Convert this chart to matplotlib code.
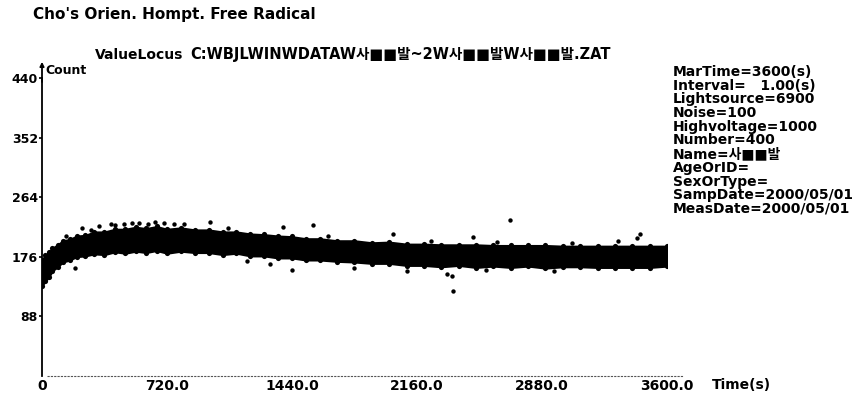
import matplotlib
matplotlib.use("Agg")
import matplotlib.pyplot as plt
import numpy as np

plt.rcParams['font.family'] = ['DejaVu Sans', 'Noto Sans CJK KR']

# time axis of the envelope (s) and lower / upper edge of the dense point cloud (count)
t_env = [0, 20, 40, 60, 90, 120, 160, 200, 250, 300, 360, 420, 480, 540, 600, 660,
         720, 800, 880, 960, 1040, 1120, 1200, 1280, 1360, 1440, 1520, 1600, 1700,
         1800, 1900, 2000, 2100, 2200, 2300, 2400, 2500, 2600, 2700, 2800, 2900,
         3000, 3100, 3200, 3300, 3400, 3500, 3600]
low_env = [133, 140, 146, 155, 161, 168, 171, 176, 177, 180, 179, 183, 181, 184, 182, 185,
           181, 184, 182, 182, 179, 181, 177, 177, 174, 174, 171, 171, 169,
           168, 166, 166, 163, 163, 161, 163, 160, 162, 160, 162, 159,
           161, 161, 160, 160, 160, 160, 162]
high_env = [172, 179, 183, 189, 194, 200, 202, 207, 208, 213, 213, 217, 217, 220, 218, 221,
            217, 219, 216, 216, 213, 213, 210, 209, 207, 206, 203, 203, 200,
            200, 197, 198, 195, 195, 194, 194, 194, 193, 193, 193, 193,
            192, 192, 192, 192, 192, 192, 192]

# single points away from the cloud
out_t = [190, 230, 330, 400, 520, 968, 1071, 1313, 1388, 1440, 1561, 1650, 1800,
         2020, 2100, 2330, 2360, 2367, 2480, 2560, 2695, 2950, 3318, 3425, 3445,
         420, 470, 560, 610, 650, 700, 760, 820, 140, 280, 1180, 2240, 2620, 3050]
out_c = [160, 218, 222, 224, 226, 227, 218, 165, 220, 156, 223, 207, 160,
         210, 155, 150, 148, 126, 205, 156, 231, 155, 200, 204, 210,
         223, 225, 226, 225, 227, 226, 225, 224, 207, 216, 170, 199, 198, 197]

y_ticks = [88, 176, 264, 352, 440]
x_ticks = [0, 720, 1440, 2160, 2880, 3600]
x_labels = ['0', '720.0', '1440.0', '2160.0', '2880.0', '3600.0']

info_lines = ['MarTime=3600(s)', 'Interval=   1.00(s)', 'Lightsource=6900', 'Noise=100',
              'Highvoltage=1000', 'Number=400', 'Name=사■■발', 'AgeOrID=',
              'SexOrType=', 'SampDate=2000/05/01', 'MeasDate=2000/05/01']

W, H = 853, 394
fig = plt.figure(figsize=(W / 100, H / 100), dpi=100)
fig.patch.set_facecolor('white')

def fx(px):
    return px / W

def fy(py):
    return 1 - py / H

# axes box in pixels: x 42..667, y 376 (0) .. 78 (440)
ax = fig.add_axes([fx(42), fy(376), fx(667) - fx(42), fy(78) - fy(376)])
ax.fill_between(t_env, low_env, high_env, color='black', lw=1.2, edgecolor='black')
ax.scatter(t_env, low_env, s=14, color='black', lw=0)
ax.scatter(t_env, high_env, s=14, color='black', lw=0)
ax.scatter(out_t, out_c, s=10, color='black', lw=0)

ax.set_xlim(0, 3600)
ax.set_ylim(0, 440)
for s in ['top', 'right', 'bottom']:
    ax.spines[s].set_visible(False)
ax.spines['left'].set_linewidth(1.3)
# dotted time axis, runs a little past 3600 as in the print
ax.plot([30, 3690], [0, 0], ls=(0, (2, 1)), lw=0.8, color='#555555', clip_on=False)

ax.set_yticks(y_ticks)
ax.set_yticklabels([str(v) for v in y_ticks], fontweight='bold', fontsize=9)
ax.tick_params(axis='y', length=2, width=1.2, pad=1)
ax.set_xticks(x_ticks)
ax.set_xticklabels(x_labels, fontweight='bold', fontsize=10)
ax.tick_params(axis='x', length=0, pad=2)
ax.annotate('', xy=(0, 468), xytext=(0, 430), xycoords='data',
            arrowprops=dict(arrowstyle='-|>', lw=1.3, color='black', mutation_scale=6),
            annotation_clip=False)

fig.text(fx(712), fy(385), 'Time(s)', fontsize=10, fontweight='bold', va='center')
fig.text(fx(33), fy(15), "Cho's Orien. Hompt. Free Radical", fontsize=11, fontweight='bold', va='center')
fig.text(fx(95), fy(55), 'ValueLocus', fontsize=10, fontweight='bold', va='center')
fig.text(fx(190), fy(55), 'C:WBJLWINWDATAW사■■발~2W사■■발W사■■발.ZAT', fontsize=10.5,
         fontweight='bold', va='center')
fig.text(fx(45), fy(71), 'Count', fontsize=9, fontweight='bold', va='center')

for i, line in enumerate(info_lines):
    fig.text(fx(673), fy(72 + 13.7 * i), line, fontsize=10, fontweight='bold', va='center')

fig.savefig('out.png', dpi=100, facecolor='white')
